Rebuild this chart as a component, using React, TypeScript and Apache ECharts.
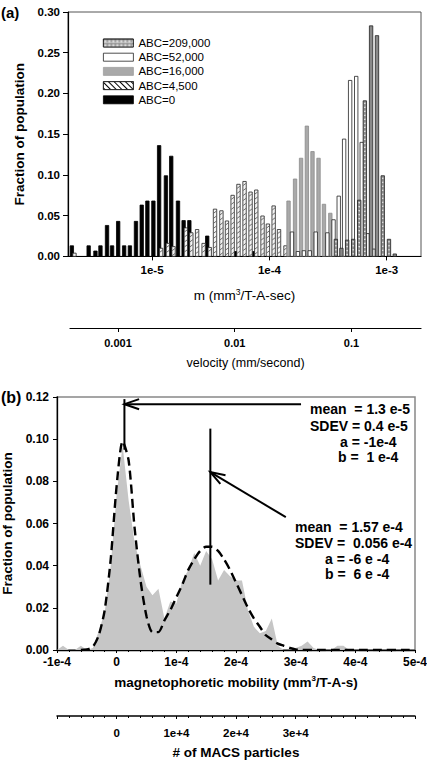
import React, { useEffect, useRef } from 'react';
import * as echarts from 'echarts';

const FONT = '"Liberation Sans", Arial, Helvetica, sans-serif';

// ---------- Panel (a): histogram bars (mobility m, fraction of population) ----------
const abc0M = [2.07e-6, 2.88e-6, 3.29e-6, 3.63e-6, 4.13e-6, 4.56e-6, 5.14e-6, 5.78e-6, 6.47e-6, 7.29e-6, 8.16e-6, 9.12e-6, 1.026e-5, 1.148e-5, 1.312e-5, 1.456e-5, 1.663e-5, 1.857e-5, 2.078e-5, 2.951e-5, 5.16e-5, 7.41e-5, 2.27e-4];
const abc0F = [0.013, 0.013, 0.0066, 0.013, 0.038, 0.013, 0.043, 0.013, 0.013, 0.043, 0.063, 0.068, 0.068, 0.136, 0.099, 0.123, 0.068, 0.044, 0.044, 0.025, 0.006, 0.006, 0.004];

const abc4500M = [2.18e-6, 1.194e-5, 1.363e-5, 1.524e-5, 1.94e-5, 2.161e-5, 2.42e-5, 2.75e-5, 3.1e-5, 3.44e-5, 3.9e-5, 4.35e-5, 4.86e-5, 5.45e-5, 6.14e-5, 6.91e-5, 7.73e-5, 8.74e-5, 9.71e-5, 1.087e-4, 1.208e-4, 1.372e-4];
const abc4500F = [0.004, 0.01, 0.016, 0.012, 0.035, 0.029, 0.033, 0.016, 0.011, 0.058, 0.056, 0.0435, 0.075, 0.0885, 0.092, 0.079, 0.0815, 0.0496, 0.0398, 0.062, 0.033, 0.013];

const abc16000M = [1.456e-4, 1.655e-4, 1.862e-4, 2.086e-4, 2.33e-4, 2.623e-4, 2.918e-4, 3.306e-4, 4.19e-4];
const abc16000F = [0.068, 0.095, 0.1205, 0.16, 0.1287, 0.1205, 0.064, 0.053, 0.004];

const abc52000M = [1.557e-4, 1.75e-4, 1.969e-4, 2.208e-4, 2.483e-4, 3.118e-4, 3.522e-4, 3.899e-4, 4.335e-4, 4.877e-4, 5.495e-4, 6.124e-4, 6.855e-4, 7.73e-4];
const abc52000F = [0.03, 0.006, 0.007, 0.007, 0.03, 0.029, 0.045, 0.074, 0.144, 0.216, 0.221, 0.14, 0.028, 0.009];

const abc209000M = [3.686e-4, 4.11e-4, 4.6e-4, 5.18e-4, 5.83e-4, 6.51e-4, 7.36e-4, 8.26e-4, 9.25e-4, 1.045e-3, 1.172e-3];
const abc209000F = [0.021, 0.01, 0.02, 0.021, 0.069, 0.191, 0.283, 0.271, 0.099, 0.021, 0.003];

const mTicks = [1e-5, 1e-4, 1e-3];
const mTickLabels = ['1e-5', '1e-4', '1e-3'];
const velTicks = [0.001, 0.01, 0.1];
const velTickLabels = ['0.001', '0.01', '0.1'];

// ---------- Panel (b): distribution (mobility in units of 1e-4) ----------
const mobX = [-1.0, -0.9, -0.8, -0.7, -0.6, -0.5, -0.4, -0.3, -0.2, -0.1, 0.0, 0.1, 0.2, 0.3, 0.4, 0.5, 0.6, 0.7, 0.8, 0.9, 1.0, 1.1, 1.2, 1.3, 1.4, 1.5, 1.6, 1.7, 1.8, 1.9, 2.0, 2.1, 2.2, 2.3, 2.4, 2.5, 2.6, 2.7, 2.8, 2.9, 3.0, 3.1, 3.2, 3.3, 3.4, 3.5, 3.6, 3.7, 3.8, 3.9, 4.0, 4.1, 4.2, 4.3, 4.4, 4.5, 4.6, 4.7, 4.8, 4.9, 5.0];
const measuredF = [0, 0.002, 0, 0, 0.002, 0, 0.001, 0.009, 0.018, 0.04, 0.074, 0.097, 0.071, 0.051, 0.04, 0.03, 0.026, 0.029, 0.015, 0.023, 0.022, 0.033, 0.038, 0.046, 0.04, 0.047, 0.043, 0.033, 0.038, 0.035, 0.033, 0.033, 0.019, 0.011, 0.008, 0.009, 0.015, 0.002, 0, 0, 0.001, 0.002, 0.004, 0.001, 0, 0, 0, 0.002, 0.002, 0, 0, 0, 0, 0, 0, 0, 0, 0, 0, 0, 0];
const fitF = [null, null, null, null, 0, 0.0003, 0.0015, 0.007, 0.019, 0.043, 0.078, 0.099, 0.09, 0.058, 0.033, 0.016, 0.0085, 0.0085, 0.014, 0.019, 0.025, 0.031, 0.038, 0.043, 0.047, 0.049, 0.049, 0.047, 0.043, 0.038, 0.032, 0.026, 0.02, 0.015, 0.011, 0.007, 0.005, 0.003, 0.002, 0.001, 0.0003, 0, 0, 0, 0, 0, 0, 0, 0, 0, 0, 0, 0, 0, 0, 0, 0, 0, 0, 0, 0];

const mobTicks = [-1e-4, 0, 1e-4, 2e-4, 3e-4, 4e-4, 5e-4];
const mobTickLabels = ['-1e-4', '0', '1e-4', '2e-4', '3e-4', '4e-4', '5e-4'];
const macsTicks = [0, 1e4, 2e4, 3e4];
const macsTickLabels = ['0', '1e+4', '2e+4', '3e+4'];

// annotation geometry (data coordinates)
const vLine1 = [[1.3e-5, 0.095], [1.3e-5, 0.119]];
const vLine2 = [[1.57e-4, 0.031], [1.57e-4, 0.105]];
const arrow1 = [[3.09e-4, 0.1166], [1.3e-5, 0.1166]];
const arrow2 = [[2.835e-4, 0.063], [1.57e-4, 0.0844]];

const note1 = ['mean  = 1.3 e-5', 'SDEV = 0.4 e-5', 'a = -1e-4', 'b =  1 e-4'];
const note2 = ['mean  = 1.57 e-4', 'SDEV =  0.056 e-4', 'a = -6 e -4', 'b =  6 e -4'];

const zip = (a: number[], b: (number | null)[]) => a.map((v, i) => [v, b[i]]);

function makeRender(kind: string, fill: string, stroke: string) {
  return (params: any, api: any) => {
    const m = api.value(0);
    const f = api.value(1);
    const top = api.coord([m, f]);
    const base = api.coord([m, 0]);
    const w = 3.4;
    const x0 = top[0] - w / 2;
    const h = base[1] - top[1];
    const children: any[] = [
      {
        type: 'rect',
        shape: { x: x0, y: top[1], width: w, height: h },
        style: { fill, stroke, lineWidth: 0.8 },
      },
    ];
    if (kind === 'dots') {
      for (let yy = top[1] + 2.5; yy < base[1] - 1; yy += 4) {
        children.push({ type: 'circle', shape: { cx: top[0], cy: yy, r: 0.7 }, style: { fill: '#f0f0f0' } });
      }
    }
    if (kind === 'hatch') {
      for (let yy = top[1] + 4; yy < base[1]; yy += 5) {
        children.push({
          type: 'line',
          shape: { x1: x0 + 0.4, y1: yy, x2: x0 + w - 0.4, y2: yy - 2 },
          style: { stroke: '#333', lineWidth: 0.7 },
        });
      }
    }
    return { type: 'group', children };
  };
}

const fmtFrom = (ticks: number[], labels: string[], log = false) => (v: number) => {
  const i = ticks.findIndex((t) =>
    log ? Math.abs(Math.log10(t) - Math.log10(v)) < 1e-6 : Math.abs(t - v) < 1e-9 * Math.max(1, Math.abs(t)) + 1e-12
  );
  return i >= 0 ? labels[i] : '';
};

export default function App() {
  const ref = useRef<HTMLDivElement>(null);

  useEffect(() => {
    document.body.style.margin = '0';
    document.body.style.overflow = 'hidden';
    const chart = echarts.init(ref.current!, null, { renderer: 'svg' });

    const tickLabel = (size: number, margin: number) => ({
      color: '#000',
      fontWeight: 'bold',
      fontSize: size,
      fontFamily: FONT,
      margin,
    });
    const blackLine = (w = 1.2) => ({ show: true, onZero: false, lineStyle: { color: '#000', width: w } });

    const seriesDefs = [
      { name: 'ABC=0', M: abc0M, F: abc0F, kind: 'plain', fill: '#000', stroke: '#000' },
      { name: 'ABC=4,500', M: abc4500M, F: abc4500F, kind: 'hatch', fill: '#f4f4f4', stroke: '#222' },
      { name: 'ABC=16,000', M: abc16000M, F: abc16000F, kind: 'plain', fill: '#a9a9a9', stroke: '#8c8c8c' },
      { name: 'ABC=52,000', M: abc52000M, F: abc52000F, kind: 'plain', fill: '#ffffff', stroke: '#222' },
      { name: 'ABC=209,000', M: abc209000M, F: abc209000F, kind: 'dots', fill: '#8a8a8a', stroke: '#222' },
    ];

    const barSeries = seriesDefs.map((d) => ({
      type: 'custom',
      name: d.name,
      xAxisIndex: 0,
      yAxisIndex: 0,
      clip: true,
      encode: { x: 0, y: 1 },
      itemStyle: { color: d.fill, borderColor: d.stroke, borderWidth: 0.8 },
      renderItem: makeRender(d.kind, d.fill, d.stroke),
      data: zip(d.M, d.F),
    }));

    const legendData = [
      {
        name: 'ABC=209,000',
        itemStyle: {
          color: '#9a9a9a',
          borderColor: '#222',
          borderWidth: 0.8,
          decal: { symbol: 'triangle', symbolSize: 0.9, dashArrayX: [4, 0], dashArrayY: [4, 0], color: '#dcdcdc' },
        },
      },
      { name: 'ABC=52,000', itemStyle: { color: '#fff', borderColor: '#222', borderWidth: 0.8 } },
      { name: 'ABC=16,000', itemStyle: { color: '#a9a9a9', borderColor: '#a0a0a0', borderWidth: 0.8 } },
      {
        name: 'ABC=4,500',
        itemStyle: {
          color: '#fff',
          borderColor: '#222',
          borderWidth: 0.8,
          decal: { symbol: 'rect', symbolSize: 1, dashArrayX: [1, 0], dashArrayY: [1, 3], rotation: Math.PI / 4, color: '#000' },
        },
      },
      { name: 'ABC=0', itemStyle: { color: '#000', borderColor: '#000', borderWidth: 0.8 } },
    ];

    const mobPairs = (vals: (number | null)[]) => mobX.map((x, i) => [x * 1e-4, vals[i]]);

    const annLine = (pts: number[][]) => ({
      type: 'line',
      xAxisIndex: 2,
      yAxisIndex: 2,
      data: pts,
      symbol: 'none',
      lineStyle: { color: '#000', width: 2 },
      z: 10,
      silent: true,
    });

    const option: any = {
      animation: false,
      textStyle: { fontFamily: FONT },
      grid: [
        { left: 68, top: 12, width: 353, height: 244.4, show: true, borderColor: '#555', borderWidth: 1, containLabel: false, outerBoundsMode: 'none' },
        { left: 70, top: 318, width: 351, height: 10, containLabel: false, outerBoundsMode: 'none' },
        { left: 57, top: 397, width: 358, height: 253, show: true, borderColor: '#888', borderWidth: 1.5, containLabel: false, outerBoundsMode: 'none' },
        { left: 57, top: 706, width: 358, height: 10, containLabel: false, outerBoundsMode: 'none' },
      ],
      legend: {
        orient: 'vertical',
        left: 98,
        top: 32,
        icon: 'rect',
        itemWidth: 30,
        itemHeight: 8,
        itemGap: 2.2,
        selectedMode: false,
        textStyle: { fontSize: 11.5, color: '#000', fontFamily: FONT, lineHeight: 12 },
        data: legendData,
      },
      xAxis: [
        {
          gridIndex: 0,
          type: 'log',
          logBase: 10,
          min: 1.92e-6,
          max: 1.96e-3,
          axisLine: blackLine(1.2),
          axisTick: { show: true, customValues: mTicks, length: 4, lineStyle: { color: '#000' } },
          axisLabel: { ...tickLabel(11.5, 8), customValues: mTicks, formatter: fmtFrom(mTicks, mTickLabels, true) },
          splitLine: { show: false },
          minorTick: { show: false },
          name: '{n|m (mm}{s|3}{n|/T-A-sec)}',
          nameLocation: 'middle',
          nameGap: 31,
          nameTextStyle: {
            rich: {
              n: { fontSize: 13.5, fontFamily: FONT, color: '#000', lineHeight: 16 },
              s: { fontSize: 8.5, fontFamily: FONT, color: '#000', lineHeight: 9, verticalAlign: 'top' },
            },
          },
        },
        {
          gridIndex: 1,
          type: 'log',
          logBase: 10,
          min: 3.88e-4,
          max: 0.394,
          position: 'bottom',
          axisLine: blackLine(1.2),
          axisTick: { show: true, customValues: velTicks, length: 4, lineStyle: { color: '#000' } },
          axisLabel: { ...tickLabel(11, 9), customValues: velTicks, formatter: fmtFrom(velTicks, velTickLabels, true) },
          splitLine: { show: false },
          name: 'velocity (mm/second)',
          nameLocation: 'middle',
          nameGap: 28,
          nameTextStyle: { fontSize: 12.5, color: '#000', fontFamily: FONT },
        },
        {
          gridIndex: 2,
          type: 'value',
          min: -1e-4,
          max: 5e-4,
          interval: 1e-4,
          axisLine: blackLine(1.3),
          axisTick: { show: true, length: 3, lineStyle: { color: '#000' } },
          minorTick: { show: true, splitNumber: 5, length: 2, lineStyle: { color: '#000' } },
          axisLabel: { ...tickLabel(12, 6), formatter: fmtFrom(mobTicks, mobTickLabels) },
          splitLine: { show: false },
          minorSplitLine: { show: false },
          name: '{n|magnetophoretic mobility (mm}{s|3}{n|/T-A-s)}',
          nameLocation: 'middle',
          nameGap: 24,
          nameTextStyle: {
            rich: {
              n: { fontSize: 13.5, fontWeight: 'bold', fontFamily: FONT, color: '#000', lineHeight: 16 },
              s: { fontSize: 8, fontWeight: 'bold', fontFamily: FONT, color: '#000', lineHeight: 9, verticalAlign: 'top' },
            },
          },
        },
        {
          gridIndex: 3,
          type: 'value',
          min: -1e4,
          max: 5e4,
          interval: 1e4,
          position: 'bottom',
          axisLine: blackLine(1.5),
          axisTick: { show: true, length: 3, lineStyle: { color: '#000' } },
          minorTick: { show: true, splitNumber: 5, length: 2, lineStyle: { color: '#000' } },
          axisLabel: { ...tickLabel(11.5, 11), customValues: macsTicks, formatter: fmtFrom(macsTicks, macsTickLabels) },
          splitLine: { show: false },
          name: '# of MACS particles',
          nameLocation: 'middle',
          nameGap: 29,
          nameTextStyle: { fontSize: 13.5, fontWeight: 'bold', color: '#000', fontFamily: FONT },
        },
      ],
      yAxis: [
        {
          gridIndex: 0,
          type: 'value',
          min: 0,
          max: 0.3,
          interval: 0.05,
          axisLine: blackLine(1.2),
          axisTick: { show: true, length: 5, lineStyle: { color: '#000' } },
          axisLabel: { ...tickLabel(11.5, 8), formatter: (v: number) => v.toFixed(2) },
          splitLine: { show: false },
          name: 'Fraction of population',
          nameLocation: 'middle',
          nameGap: 40,
          nameTextStyle: { fontSize: 13.5, fontWeight: 'bold', color: '#000', fontFamily: FONT },
        },
        { gridIndex: 1, type: 'value', show: false, min: 0, max: 1 },
        {
          gridIndex: 2,
          type: 'value',
          min: 0,
          max: 0.12,
          interval: 0.02,
          axisLine: blackLine(1.3),
          axisTick: { show: true, length: 4, lineStyle: { color: '#000' } },
          axisLabel: { ...tickLabel(12, 8), formatter: (v: number) => v.toFixed(2) },
          splitLine: { show: false },
          name: 'Fraction of population',
          nameLocation: 'middle',
          nameGap: 42,
          nameTextStyle: { fontSize: 13.5, fontWeight: 'bold', color: '#000', fontFamily: FONT },
        },
        { gridIndex: 3, type: 'value', show: false, min: 0, max: 1 },
      ],
      series: [
        ...barSeries,
        {
          type: 'line',
          name: 'measured',
          xAxisIndex: 2,
          yAxisIndex: 2,
          data: mobPairs(measuredF),
          symbol: 'none',
          lineStyle: { width: 0, color: '#c6c6c6' },
          itemStyle: { color: '#c6c6c6' },
          areaStyle: { color: '#c6c6c6', opacity: 1 },
          silent: true,
        },
        {
          type: 'line',
          name: 'fit',
          xAxisIndex: 2,
          yAxisIndex: 2,
          data: mobPairs(fitF),
          symbol: 'none',
          smooth: 0.25,
          lineStyle: { color: '#000', width: 2.4, type: [9, 5] },
          z: 5,
          silent: true,
        },
        annLine(vLine1),
        annLine(vLine2),
        annLine(arrow1),
        annLine(arrow2),
      ],
    };

    chart.setOption(option);

    const toPx = (pt: number[]) => chart.convertToPixel({ xAxisIndex: 2, yAxisIndex: 2 } as any, pt) as number[];
    const arrowHead = (tipD: number[], fromD: number[], L: number, angDeg: number) => {
      const tip = toPx(tipD);
      const from = toPx(fromD);
      const dx = from[0] - tip[0];
      const dy = from[1] - tip[1];
      const len = Math.hypot(dx, dy) || 1;
      const ux = dx / len;
      const uy = dy / len;
      const a = (angDeg * Math.PI) / 180;
      const rot = (t: number) => [
        tip[0] + L * (ux * Math.cos(t) - uy * Math.sin(t)),
        tip[1] + L * (ux * Math.sin(t) + uy * Math.cos(t)),
      ];
      return {
        type: 'polyline',
        shape: { points: [rot(a), tip, rot(-a)] },
        style: { stroke: '#000', lineWidth: 2, fill: null },
        z: 100,
        silent: true,
      };
    };

    const txt = (s: string, x: number, y: number, size: number) => ({
      type: 'text',
      x,
      y,
      z: 100,
      silent: true,
      style: {
        text: s,
        fill: '#000',
        fontSize: size,
        fontWeight: 'bold',
        fontFamily: FONT,
        verticalAlign: 'middle',
        textVerticalAlign: 'middle',
        align: 'left',
      },
    });

    const note1Pos = [[310, 409], [310, 426], [340, 441.5], [338, 457]];
    const note2Pos = [[295, 527], [295, 542.5], [325, 558.5], [325, 574]];

    chart.setOption({
      graphic: [
        txt('(a)', 1, 12, 15),
        txt('(b)', 1, 397, 16),
        ...note1.map((s, i) => txt(s, note1Pos[i][0], note1Pos[i][1], 14)),
        ...note2.map((s, i) => txt(s, note2Pos[i][0], note2Pos[i][1], 14)),
        arrowHead(arrow1[1], arrow1[0], 15.5, 19),
        arrowHead(arrow2[1], arrow2[0], 15.5, 19),
      ],
    });

    return () => chart.dispose();
  }, []);

  return <div ref={ref} style={{ width: 427, height: 763 }} />;
}
